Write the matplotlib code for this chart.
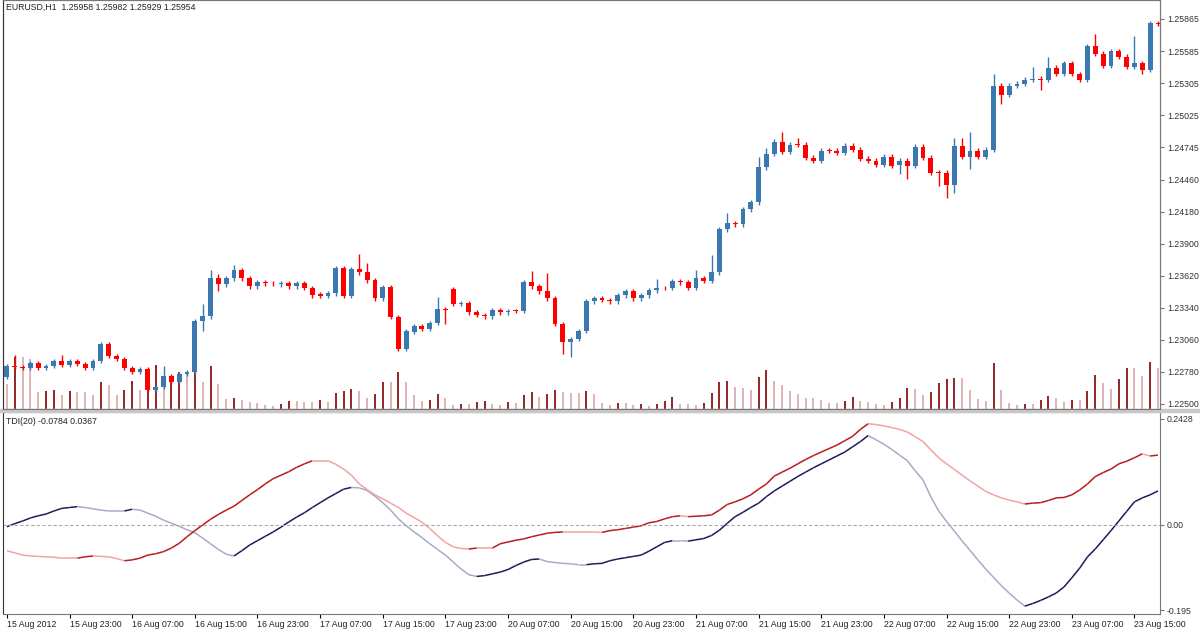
import numpy as np
import matplotlib
matplotlib.use("Agg")
import matplotlib.pyplot as plt
from matplotlib.collections import LineCollection

plt.rcParams["font.family"] = "Liberation Sans"

# EURUSD H1 closes
closes = [1.22830, 1.22823, 1.22814, 1.22858, 1.22814, 1.22831, 1.22875, 1.22840, 1.22875, 1.22849,
          1.22814, 1.22875, 1.23023, 1.22919, 1.22892, 1.22814, 1.22779, 1.22805, 1.22622, 1.22648,
          1.22744, 1.22692, 1.22762, 1.22779, 1.23224, 1.23267, 1.23599, 1.23546, 1.23599, 1.23668,
          1.23599, 1.23529, 1.23564, 1.23555, 1.23555, 1.23555, 1.23529, 1.23555, 1.23512, 1.23450,
          1.23442, 1.23468, 1.23686, 1.23442, 1.23677, 1.23651, 1.23581, 1.23424, 1.23520, 1.23259,
          1.22980, 1.23137, 1.23180, 1.23154, 1.23206, 1.23328, 1.23320, 1.23372, 1.23381, 1.23302,
          1.23276, 1.23267, 1.23320, 1.23302, 1.23311, 1.23311, 1.23564, 1.23529, 1.23485, 1.23424,
          1.23198, 1.23041, 1.23067, 1.23137, 1.23398, 1.23424, 1.23407, 1.23398, 1.23450, 1.23485,
          1.23424, 1.23450, 1.23494, 1.23512, 1.23512, 1.23573, 1.23564, 1.23512, 1.23599, 1.23573,
          1.23651, 1.24026, 1.24078, 1.24069, 1.24200, 1.24261, 1.24567, 1.24689, 1.24793, 1.24706,
          1.24767, 1.24767, 1.24654, 1.24628, 1.24715, 1.24715, 1.24697, 1.24758, 1.24724, 1.24645,
          1.24628, 1.24593, 1.24663, 1.24584, 1.24628, 1.24584, 1.24750, 1.24654, 1.24523, 1.24523,
          1.24418, 1.24758, 1.24663, 1.24715, 1.24663, 1.24724, 1.25282, 1.25203, 1.25282, 1.25299,
          1.25334, 1.25343, 1.25334, 1.25439, 1.25386, 1.25482, 1.25386, 1.25334, 1.25630, 1.25561,
          1.25456, 1.25587, 1.25535, 1.25448, 1.25482, 1.25421, 1.25831, 1.25825]
# opens that differ from the previous close
open_gaps = {0: 1.22735, 35: 1.23546, 40: 1.23459, 52: 1.23128, 57: 1.23503, 114: 1.24593}
# wick lengths in pips (default 2)
wick_up = {1: 10, 7: 5, 20: 9, 25: 11, 26: 7, 27: 4, 29: 5, 45: 13, 46: 8, 55: 11, 67: 10, 69: 16,
           83: 8, 88: 7, 90: 15, 92: 9, 96: 9, 97: 5, 99: 8, 101: 6, 121: 7, 122: 7, 123: 16,
           126: 10, 131: 10, 133: 9, 139: 10, 144: 23}
wick_dn = {25: 9, 27: 6, 56: 12, 71: 10, 72: 13, 114: 8, 115: 12, 119: 12, 120: 12, 121: 7,
           123: 11, 127: 8, 132: 9, 145: 4}

volumes = [25, 52, 52, 50, 17, 18, 19, 14, 18, 17,
           17, 14, 27, 24, 14, 19, 28, 19, 25, 44,
           22, 33, 37, 37, 40, 27, 43, 25, 10, 11,
           9, 7, 6, 4, 3, 5, 8, 8, 7, 7,
           9, 7, 16, 18, 20, 18, 11, 15, 27, 27,
           37, 27, 14, 8, 9, 15, 11, 4, 5, 5,
           7, 8, 5, 4, 7, 6, 14, 17, 12, 15,
           19, 17, 16, 16, 18, 15, 6, 4, 6, 6,
           4, 5, 3, 5, 8, 12, 5, 5, 4, 6,
           16, 27, 28, 22, 21, 19, 32, 39, 28, 24,
           18, 15, 11, 11, 9, 6, 6, 8, 12, 8,
           7, 5, 4, 7, 11, 21, 20, 14, 17, 26,
           30, 31, 31, 19, 10, 8, 46, 19, 6, 4,
           5, 5, 9, 13, 11, 7, 9, 9, 18, 34,
           26, 20, 30, 41, 41, 33, 47, 41]

tdi_blue = [-0.004, 0.003, 0.009, 0.016, 0.021, 0.025, 0.032, 0.038, 0.040, 0.042,
            0.040, 0.037, 0.034, 0.032, 0.032, 0.032, 0.036, 0.034, 0.027, 0.020,
            0.011, 0.004, -0.003, -0.011, -0.018, -0.030, -0.043, -0.056, -0.067, -0.071,
            -0.059, -0.046, -0.036, -0.026, -0.016, -0.005, 0.007, 0.018, 0.028, 0.040,
            0.051, 0.062, 0.072, 0.082, 0.086, 0.085, 0.079, 0.066, 0.051, 0.034,
            0.014, -0.002, -0.016, -0.029, -0.043, -0.056, -0.069, -0.085, -0.101, -0.114,
            -0.118, -0.116, -0.112, -0.108, -0.102, -0.093, -0.085, -0.079, -0.078, -0.084,
            -0.086, -0.088, -0.089, -0.091, -0.091, -0.089,
            -0.088, -0.082, -0.078, -0.075, -0.072, -0.069, -0.060, -0.050, -0.040, -0.036,
            -0.036, -0.037, -0.034, -0.031, -0.024, -0.012, 0.004, 0.019, 0.029, 0.040,
            0.050, 0.065, 0.078, 0.089, 0.100, 0.111, 0.121, 0.131, 0.140, 0.149,
            0.158, 0.167, 0.179, 0.191, 0.205, 0.195, 0.185, 0.173, 0.160, 0.147,
            0.124, 0.103, 0.064, 0.032, 0.008, -0.014, -0.037, -0.058, -0.080, -0.101,
            -0.120, -0.139, -0.156, -0.172, -0.186, -0.180, -0.173, -0.165, -0.156, -0.142,
            -0.121, -0.099, -0.073, -0.055, -0.034, -0.013, 0.009, 0.031, 0.053, 0.062,
            0.069, 0.078]
tdi_red = [-0.059, -0.064, -0.069, -0.071, -0.072, -0.073, -0.074, -0.076, -0.076, -0.076,
           -0.073, -0.071, -0.072, -0.073, -0.077, -0.082, -0.080, -0.076, -0.069, -0.066,
           -0.061, -0.053, -0.042, -0.027, -0.013, 0.000, 0.013, 0.024, 0.034, 0.043,
           0.056, 0.069, 0.081, 0.094, 0.106, 0.114, 0.122, 0.132, 0.140, 0.147,
           0.147, 0.147, 0.139, 0.128, 0.114, 0.094, 0.081, 0.069, 0.060, 0.050,
           0.040, 0.027, 0.017, 0.006, -0.008, -0.025, -0.040, -0.050, -0.054, -0.055,
           -0.053, -0.053, -0.053, -0.043, -0.039, -0.035, -0.032, -0.027, -0.023, -0.019,
           -0.017, -0.016, -0.016, -0.016, -0.016, -0.016,
           -0.017, -0.013, -0.011, -0.008, -0.005, -0.002, 0.005, 0.008, 0.014, 0.019,
           0.021, 0.019, 0.020, 0.021, 0.023, 0.034, 0.047, 0.053, 0.060, 0.069,
           0.082, 0.094, 0.112, 0.121, 0.130, 0.140, 0.150, 0.159, 0.167, 0.175,
           0.183, 0.193, 0.203, 0.219, 0.232, 0.230, 0.227, 0.223, 0.219, 0.213,
           0.202, 0.191, 0.172, 0.154, 0.140, 0.127, 0.114, 0.101, 0.089, 0.077,
           0.069, 0.062, 0.057, 0.053, 0.048, 0.050, 0.051, 0.056, 0.062, 0.063,
           0.069, 0.080, 0.094, 0.111, 0.120, 0.128, 0.140, 0.146, 0.154, 0.163,
           0.158, 0.160]

time_labels = ["15 Aug 2012", "15 Aug 23:00", "16 Aug 07:00", "16 Aug 15:00", "16 Aug 23:00",
               "17 Aug 07:00", "17 Aug 15:00", "17 Aug 23:00", "20 Aug 07:00", "20 Aug 15:00",
               "20 Aug 23:00", "21 Aug 07:00", "21 Aug 15:00", "21 Aug 23:00", "22 Aug 07:00",
               "22 Aug 15:00", "22 Aug 23:00", "23 Aug 07:00", "23 Aug 15:00"]
price_ticks = [1.22500, 1.22780, 1.23060, 1.23340, 1.23620, 1.23900, 1.24180, 1.24460,
               1.24745, 1.25025, 1.25305, 1.25585, 1.25865]
tdi_ticks = [-0.195, 0.0, 0.2428]

BULL = "#3b78b0"
BEAR = "#ff0000"
FS = 6.3

n = len(closes)
opens = [open_gaps.get(i, closes[i - 1] if i > 0 else closes[0]) for i in range(n)]
highs = [max(o, c) + wick_up.get(i, 2) * 0.0001 for i, (o, c) in enumerate(zip(opens, closes))]
lows = [min(o, c) - wick_dn.get(i, 2) * 0.0001 for i, (o, c) in enumerate(zip(opens, closes))]

fig = plt.figure(figsize=(12, 6.3), dpi=100)
W, H = 1200, 630
x0, x1 = 3 / W, 1160 / W
ax = fig.add_axes([x0, 1 - 409 / H, x1 - x0, 409 / H])
ax2 = fig.add_axes([x0, 1 - 614 / H, x1 - x0, 202 / H])
xlim = (-0.5, (1160 - 4) / 7.85)

# candles
for i in range(n):
    o, c = opens[i], closes[i]
    col = BULL if c > o else BEAR
    ax.vlines(i, lows[i], highs[i], color=col, lw=1, zorder=3)
    h = max(abs(c - o), 0.00006)
    ax.bar(i, h, bottom=min(o, c), width=0.62, color=col, lw=0, zorder=4)
ax.set_ylim(1.22456, 1.26031)
ax.set_xlim(*xlim)

# volume on its own scale at the bottom of the price pane
axv = ax.twinx()
vcols = ["#800000" if i > 0 and volumes[i] > volumes[i - 1] else "#d8a8ab" for i in range(n)]
axv.vlines(range(n), 0, volumes, colors=vcols, lw=1.2, zorder=1)
axv.set_ylim(0, 409)
axv.set_yticks([])
axv.set_zorder(0)
ax.set_zorder(1)
ax.patch.set_visible(False)

ax.yaxis.tick_right()
ax.set_yticks(price_ticks)
ax.set_yticklabels([f"{p:.5f}" for p in price_ticks], fontsize=FS, color="#333333")
ax.set_xticks([])

# TDI pane
for series, up_col, dn_col in [(tdi_blue, "#1c1c5a", "#a9a9c9"), (tdi_red, "#b81c1c", "#f2a3a3")]:
    xs = np.arange(len(series))
    ys = np.array(series)
    pts = np.column_stack([xs, ys]).reshape(-1, 1, 2)
    segs = np.concatenate([pts[:-1], pts[1:]], axis=1)
    cols = [up_col if ys[k + 1] > ys[k] else dn_col for k in range(len(ys) - 1)]
    ax2.add_collection(LineCollection(segs, colors=cols, lw=1.1))
ax2.axhline(0, color="#aaaaaa", lw=0.8, ls=(0, (3, 2)))
ax2.set_ylim(-0.2040, 0.2588)
ax2.set_xlim(*xlim)
ax2.yaxis.tick_right()
ax2.set_yticks(tdi_ticks)
ax2.set_yticklabels(["-0.195", "0.00", "0.2428"], fontsize=FS, color="#333333")
ticks = np.arange(len(time_labels)) * 8
ax2.set_xticks(ticks)
ax2.set_xticklabels(time_labels, fontsize=FS, ha="left", color="#222222")
ax2.tick_params(axis="x", length=3, pad=1)

for a in (ax, ax2, axv):
    for s in a.spines.values():
        s.set_color("#777777")
        s.set_linewidth(0.8)
    a.tick_params(axis="y", length=3, pad=2, colors="#777777", labelcolor="#333333")
ax.spines["left"].set_color("#333333")
ax2.spines["left"].set_color("#333333")

# separator between panes
fig.patches.append(plt.Rectangle((0, 1 - 412 / H), 1, 3 / H, transform=fig.transFigure,
                                 color="#c8c8c8", zorder=0))

fig.text(6 / W, 1 - 10 / H, "EURUSD,H1  1.25958 1.25982 1.25929 1.25954", fontsize=FS, color="#222222")
fig.text(6 / W, 1 - 424 / H, "TDI(20) -0.0784 0.0367", fontsize=FS, color="#222222")

fig.savefig("out.png", dpi=100, facecolor="white")
